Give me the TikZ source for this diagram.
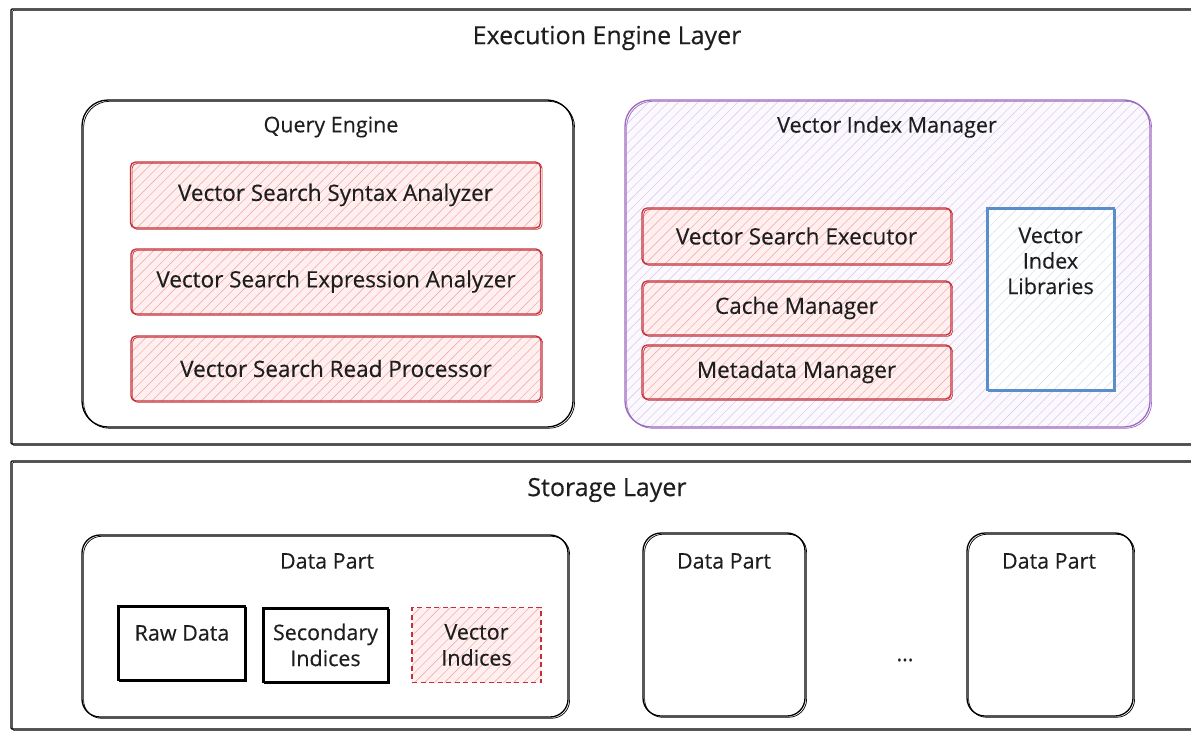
\documentclass[tikz,border=0pt]{standalone}
\usepackage{fontspec}
\setmainfont{Open Sans}[FakeBold=0.35]
\usetikzlibrary{patterns.meta}
\definecolor{ink}{HTML}{1E1E1E}
\definecolor{sred}{HTML}{C42F38}
\definecolor{fred}{HTML}{FFEFEF}
\definecolor{hred}{HTML}{F0A0A4}
\definecolor{spurple}{HTML}{9C6AC2}
\definecolor{fpurple}{HTML}{FBF8FE}
\definecolor{hpurple}{HTML}{D6C6EA}
\definecolor{sblue}{HTML}{5A8ECB}
\definecolor{hblue}{HTML}{CFDDEF}
\begin{document}
\begin{tikzpicture}[x=1pt,y=-1pt,
  every node/.style={text=ink, inner sep=0pt},
  sketch/.style={postaction={draw=#1, line width=1.3pt},
                 postaction={draw=#1, line width=0.7pt, transform canvas={shift={(1.6,1.3)}}}},
  hatch/.style 2 args={fill=#1, postaction={pattern={Lines[angle=45,distance=7pt,line width=0.45pt]}, pattern color=#2}},
  layer/.style={sketch=black, rounded corners=1pt},
  group/.style={sketch=black, rounded corners=26pt},
  part/.style={sketch=black, rounded corners=18pt},
  redbox/.style={hatch={fred}{hred}, sketch=sred, rounded corners=5pt, label, font=\fontsize{22.5}{26}\selectfont},
  plainbox/.style={sketch=black, fill=white},
  bigtitle/.style={font=\fontsize{25}{30}\selectfont},
  title/.style={font=\fontsize{21.5}{26}\selectfont},
  label/.style={font=\fontsize{21.5}{26}\selectfont, align=center},
]
\useasboundingbox (0,0) rectangle (1191,731);

% ---------- Execution engine layer ----------
\node[layer, minimum width=1189pt, minimum height=435pt] (exec) at (605.5,226.5) {};
\node[bigtitle] (exectitle) at (607,38) {Execution Engine Layer};

% Query engine
\node[group, minimum width=491pt, minimum height=327pt] (qe) at (327.5,263.5) {};
\node[title] (qetitle) at (331,127) {Query Engine};
\node[redbox, minimum width=410pt, minimum height=66pt] (syntax) at (335.5,195) {Vector Search Syntax Analyzer};
\node[redbox, minimum width=410pt, minimum height=65pt] (expr) at (336,281.5) {Vector Search Expression Analyzer};
\node[redbox, minimum width=410pt, minimum height=65pt] (read) at (336,368.5) {Vector Search Read Processor};

% Vector index manager
\node[hatch={fpurple}{hpurple}, sketch=spurple, rounded corners=26pt,
      minimum width=525pt, minimum height=327pt] (vim) at (887.5,263.5) {};
\node[title] (vimtitle) at (887,127) {Vector Index Manager};
\node[redbox, minimum width=309pt, minimum height=56pt] (exe) at (796.5,236) {Vector Search Executor};
\node[redbox, minimum width=309pt, minimum height=54pt] (cache) at (796.5,308) {Cache Manager};
\node[redbox, minimum width=309pt, minimum height=54pt] (meta) at (796.5,372) {Metadata Manager};
\node[hatch={white}{hblue}, sketch=sblue, minimum width=127pt, minimum height=182pt] (libs) at (1050.5,299) {};
\node[label, font=\fontsize{21.5}{25.5}\selectfont] (libstext) at (1050.5,261) {Vector\\Index\\Libraries};

% ---------- Storage layer ----------
\node[layer, minimum width=1189pt, minimum height=268pt] (storage) at (605.5,595) {};
\node[bigtitle] (storagetitle) at (607,490) {Storage Layer};

% First data part with its contents
\node[part, minimum width=486pt, minimum height=182pt] (dp1) at (325,626) {};
\node[title] (dp1title) at (327,561) {Data Part};
\node[plainbox, minimum width=127pt, minimum height=74pt] (raw) at (181.5,643) {};
\node[label] (rawtext) at (182,633) {Raw Data};
\node[plainbox, minimum width=125pt, minimum height=74pt, label] (sec) at (325.5,645) {Secondary\\Indices};
\node[hatch={fred}{hred}, postaction={draw=sred, line width=1.3pt, dash pattern=on 5pt off 3.5pt},
      minimum width=129pt, minimum height=75pt, label] (vidx) at (476.5,645) {Vector\\Indices};

% Further data parts
\node[part, minimum width=162pt, minimum height=183pt] (dp2) at (724,624.5) {};
\node[title] (dp2title) at (724,561) {Data Part};
\node[font=\fontsize{21}{24}\selectfont] (dots) at (905,660) {...};
\node[part, minimum width=166pt, minimum height=183pt] (dp3) at (1050,624.5) {};
\node[title] (dp3title) at (1049,561) {Data Part};
\end{tikzpicture}
\end{document}
